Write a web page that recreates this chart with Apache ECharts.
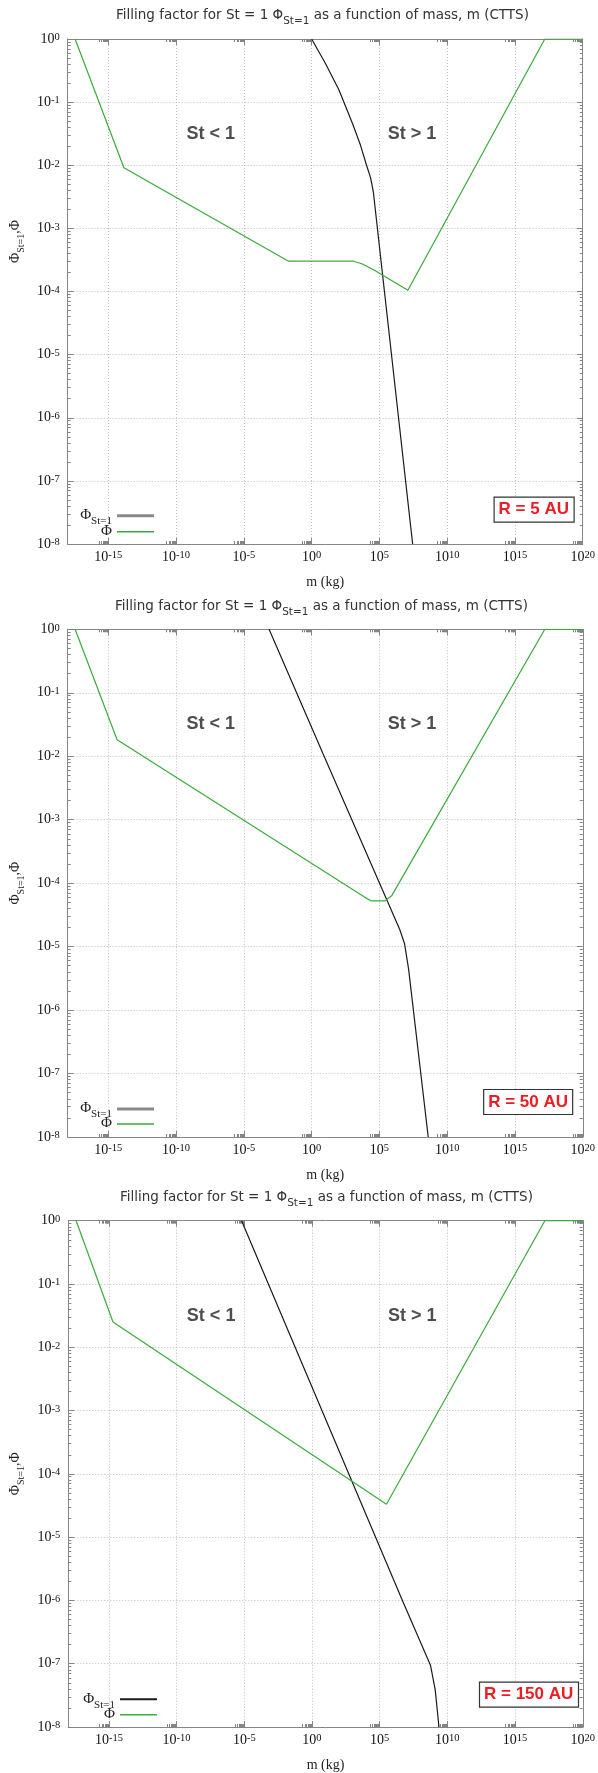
<!DOCTYPE html>
<html><head><meta charset="utf-8">
<script src="https://cdn.jsdelivr.net/npm/echarts@6/dist/echarts.min.js"></script>
<style>html,body{margin:0;padding:0;background:#fff}#c{width:598px;height:1773px}</style>
</head><body><div id="c"></div>
<script>
// ---------------- data (log10 values) ----------------
const xMajorTicks = [-15, -10, -5, 0, 5, 10, 15, 20];   // log10 m (kg)
const yMajorTicks = [-8, -7, -6, -5, -4, -3, -2, -1, 0]; // log10 Φ
const panelNames = ['R = 5 AU', 'R = 50 AU', 'R = 150 AU'];

// R = 5 AU
const logM_St1_5 = [0, 1, 2, 3, 3.6, 4.05, 4.35, 4.55, 7.45];
const logPhi_St1_5 = [0, -0.38, -0.8, -1.33, -1.68, -2.0, -2.2, -2.42, -8];
const logM_Phi_5 = [-17.45, -13.85, -1.7, 3.1, 3.7, 4.6, 7.1, 17.2, 20];
const logPhi_Phi_5 = [0, -2.04, -3.52, -3.52, -3.56, -3.66, -3.98, 0, 0];

// R = 50 AU
const logM_St1_50 = [-3.14, 0.92, 6.5, 6.85, 7.15, 8.6];
const logPhi_St1_50 = [0, -2, -4.73, -4.95, -5.35, -8];
const logM_Phi_50 = [-17.45, -14.35, 3.9, 4.4, 5.4, 5.9, 17.2, 20];
const logPhi_Phi_50 = [0, -1.74, -4.22, -4.28, -4.28, -4.2, 0, 0];

// R = 150 AU
const logM_St1_150 = [-5.2, 6.64, 8.76, 9.1, 9.38];
const logPhi_St1_150 = [0, -5.98, -7.03, -7.41, -8];
const logM_Phi_150 = [-17.42, -14.7, 5.5, 17.2, 20];
const logPhi_Phi_150 = [0, -1.6, -4.48, 0, 0];

// region annotations (data coordinates, log10)
const regionText = ['St < 1', 'St > 1'];
const regionLogM = [-7.45, 7.4];
const regionLogPhi = [-1.5, -1.5];

// -------------------------------------------------------------------------
const panels = [
  { st1: [logM_St1_5, logPhi_St1_5], phi: [logM_Phi_5, logPhi_Phi_5] },
  { st1: [logM_St1_50, logPhi_St1_50], phi: [logM_Phi_50, logPhi_Phi_50] },
  { st1: [logM_St1_150, logPhi_St1_150], phi: [logM_Phi_150, logPhi_Phi_150] }
];
const grids = [
  { left: 65.7, top: 39, width: 517.6, height: 505 },
  { left: 63.3, top: 629.3, width: 520.7, height: 507.7 },
  { left: 68.3, top: 1220.7, width: 518.7, height: 507.6 }
];
const titleLayout = [{ left: 116, top: 7 }, { left: 115, top: 598 }, { left: 120, top: 1189 }];
const boxLayout = [{ right: 24, top: 496.7 }, { right: 25, top: 1089 }, { right: 19.7, top: 1681.7 }];
// legend: right edge of the key line, and centre y of each key line
const legendRight = [444, 444, 441];
const legendSt1Y = [516.7, 1110, 1700.3];
const legendPhiY = [531.7, 1124, 1714.7];
const legendSt1Color = ['#8a8a8a', '#8a8a8a', '#1a1a1a'];
const legendSt1Height = [3, 3, 2];

const frameColor = '#858585';
const serif = '"Liberation Serif","DejaVu Serif",serif';
const sans = '"Liberation Sans",Arial,sans-serif';
const titleFont = '"DejaVu Sans",Verdana,sans-serif';

const xMinor = [], yMinor = [];
xMajorTicks.forEach(M => { for (let k = 2; k <= 9; k++) xMinor.push(M - 1 + Math.log10(k)); });
for (let n = -8; n < 0; n++) for (let k = 2; k <= 9; k++) yMinor.push(n + Math.log10(k));

const powRich = {
  b: { fontFamily: serif, fontSize: 14, lineHeight: 14, color: '#111', verticalAlign: 'bottom' },
  s: { fontFamily: serif, fontSize: 10.5, lineHeight: 10, color: '#111', verticalAlign: 'top', padding: [0, 0, 8, 0] }
};
const powFmt = v => '{b|10}{s|' + String(Math.round(v)) + '}';

const xAxes = [], yAxes = [], series = [], titles = [], legends = [];
grids.forEach((g, gi) => {
  const tickLine = { color: frameColor, width: 1 };
  xAxes.push({
    gridIndex: gi, type: 'value', min: -18, max: 20, position: 'bottom',
    name: 'm (kg)', nameLocation: 'middle', nameGap: 31,
    nameTextStyle: { fontFamily: serif, fontSize: 14, color: '#222' },
    axisLine: { show: true, onZero: false, lineStyle: { color: frameColor, width: 1 } },
    axisTick: { show: true, inside: true, length: 6, customValues: xMajorTicks, lineStyle: tickLine },
    axisLabel: { show: true, customValues: xMajorTicks, formatter: powFmt, rich: powRich, margin: 6 },
    splitLine: { show: true, lineStyle: { type: [1, 2], color: '#bdbdbd', width: 1 } }
  });
  xAxes.push({
    gridIndex: gi, type: 'value', min: -18, max: 20, position: 'top',
    axisLine: { show: true, onZero: false, lineStyle: { color: frameColor, width: 1 } },
    axisTick: { show: true, inside: true, length: 6, customValues: xMajorTicks, lineStyle: tickLine },
    axisLabel: { show: false }, splitLine: { show: false }
  });
  ['bottom', 'top'].forEach(p => xAxes.push({
    gridIndex: gi, type: 'value', min: -18, max: 20, position: p,
    axisLine: { show: false, onZero: false },
    axisTick: { show: true, inside: true, length: 3, customValues: xMinor, lineStyle: tickLine },
    axisLabel: { show: false }, splitLine: { show: false }
  }));
  yAxes.push({
    gridIndex: gi, type: 'value', min: -8, max: 0, interval: 1, position: 'left',
    name: '{p|Φ}{s|St=1}{p|,Φ}', nameLocation: 'middle', nameGap: 35, nameRotate: 90,
    nameTextStyle: {
      padding: gi === 0 ? [0, 0, 0, 100] : 0,
      rich: {
        p: { fontFamily: serif, fontSize: 14, color: '#222', lineHeight: 15, verticalAlign: 'top' },
        s: { fontFamily: serif, fontSize: 10, color: '#222', lineHeight: 10, verticalAlign: 'top', padding: [8, 0, 0, 0] }
      }
    },
    axisLine: { show: true, onZero: false, lineStyle: { color: frameColor, width: 1 } },
    axisTick: { show: true, inside: true, length: 6, lineStyle: tickLine },
    axisLabel: { show: true, formatter: powFmt, rich: powRich, margin: 8 },
    splitLine: { show: true, lineStyle: { type: [1, 2], color: '#bdbdbd', width: 1 } }
  });
  yAxes.push({
    gridIndex: gi, type: 'value', min: -8, max: 0, interval: 1, position: 'right',
    axisLine: { show: true, onZero: false, lineStyle: { color: frameColor, width: 1 } },
    axisTick: { show: true, inside: true, length: 6, lineStyle: tickLine },
    axisLabel: { show: false }, splitLine: { show: false }
  });
  ['left', 'right'].forEach(p => yAxes.push({
    gridIndex: gi, type: 'value', min: -8, max: 0, position: p,
    axisLine: { show: false, onZero: false },
    axisTick: { show: true, inside: true, length: 3, customValues: yMinor, lineStyle: tickLine },
    axisLabel: { show: false }, splitLine: { show: false }
  }));

  const P = panels[gi];
  const xi = gi * 4, yi = gi * 4;
  series.push({
    name: 'phiSt1_' + gi, type: 'line', xAxisIndex: xi, yAxisIndex: yi,
    data: P.st1[0].map((m, i) => [m, P.st1[1][i]]),
    showSymbol: false, symbol: 'none', color: '#1a1a1a', lineStyle: { color: '#1a1a1a', width: 1.2 },
    animation: false, z: 3
  });
  series.push({
    name: 'phi_' + gi, type: 'line', xAxisIndex: xi, yAxisIndex: yi,
    data: P.phi[0].map((m, i) => [m, P.phi[1][i]]),
    showSymbol: false, symbol: 'none', color: '#3aaa3a', lineStyle: { color: '#3aaa3a', width: 1.2 },
    animation: false, z: 3
  });
  series.push({
    name: 'regions_' + gi, type: 'scatter', xAxisIndex: xi, yAxisIndex: yi,
    data: regionText.map((t, i) => ({ value: [regionLogM[i], regionLogPhi[i]], name: t })),
    symbolSize: 0, silent: true, animation: false,
    label: { show: true, position: 'inside', formatter: p => p.name,
      fontFamily: sans, fontSize: 18, fontWeight: 'bold', color: '#222' }
  });

  titles.push({
    text: 'Filling factor for St = 1 Φ{s|St=1} as a function of mass, m (CTTS)',
    left: titleLayout[gi].left, top: titleLayout[gi].top, padding: 0,
    textStyle: {
      fontFamily: titleFont, fontSize: 13.5, fontWeight: 'normal', color: '#333', lineHeight: 16,
      rich: { s: { fontFamily: titleFont, fontSize: 10.5, color: '#333', lineHeight: 10, verticalAlign: 'top', padding: [9, 0, 0, 0] } }
    }
  });
  titles.push({
    text: panelNames[gi], right: boxLayout[gi].right, top: boxLayout[gi].top,
    padding: [4, 5, 4, 5], borderColor: '#333', borderWidth: 1.2, backgroundColor: '#fff',
    textStyle: { fontFamily: sans, fontSize: 17, fontWeight: 'bold', color: '#ed1c24', lineHeight: 18 }
  });

  const legRich = {
    a: { fontFamily: serif, fontSize: 15, color: '#222', lineHeight: 16, verticalAlign: 'top' },
    b: { fontFamily: serif, fontSize: 11, color: '#222', lineHeight: 10, verticalAlign: 'top', padding: [8, 0, 0, 0] }
  };
  legends.push({
    data: [{ name: 'phiSt1_' + gi, itemStyle: { color: legendSt1Color[gi] } }],
    orient: 'vertical', align: 'right',
    right: legendRight[gi], top: legendSt1Y[gi] - 9, padding: 0,
    itemWidth: 37, itemHeight: legendSt1Height[gi], icon: 'rect', selectedMode: false,
    formatter: () => '{a|Φ}{b|St=1}',
    textStyle: { rich: legRich, padding: 0 }
  });
  legends.push({
    data: ['phi_' + gi],
    orient: 'vertical', align: 'right',
    right: legendRight[gi], top: legendPhiY[gi] - 8, padding: 0,
    itemWidth: 37, itemHeight: 1.6, icon: 'rect', selectedMode: false,
    formatter: () => '{a|Φ}',
    textStyle: { rich: legRich, padding: 0 }
  });
});

const chart = echarts.init(document.getElementById('c'), null, { renderer: 'canvas' });
chart.setOption({
  backgroundColor: '#fff',
  animation: false,
  title: titles,
  legend: legends,
  grid: grids.map(g => ({ left: g.left, top: g.top, width: g.width, height: g.height, containLabel: false })),
  xAxis: xAxes,
  yAxis: yAxes,
  series: series
});
</script></body></html>
